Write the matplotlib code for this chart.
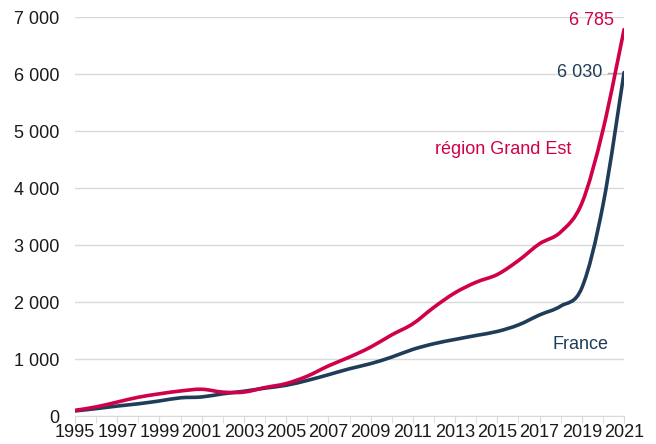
import matplotlib
matplotlib.use("Agg")
import matplotlib.pyplot as plt
from matplotlib.path import Path
from matplotlib.patches import PathPatch
from matplotlib.ticker import FuncFormatter

plt.rcParams['font.family'] = ['Liberation Sans', 'DejaVu Sans']

years = list(range(1995, 2022))
grand_est = [100, 160, 245, 330, 390, 440, 470, 420, 420, 500, 570, 700, 880, 1035,
             1210, 1425, 1620, 1910, 2165, 2350, 2485, 2730, 3025, 3230, 3735, 5020, 6785]
france = [90, 130, 175, 215, 265, 320, 335, 390, 435, 490, 540, 625, 725, 830,
          920, 1035, 1170, 1270, 1345, 1415, 1485, 1600, 1775, 1930, 2250, 3700, 6030]

RED = "#d0004a"
BLUE = "#1f3d58"
FS = 13


def smooth_path(xs, ys):
    # Excel-like smoothed line: cubic Bezier segments through every point
    pts = list(zip(xs, ys))
    verts = [pts[0]]
    codes = [Path.MOVETO]
    n = len(pts)
    for i in range(n - 1):
        p0 = pts[i - 1] if i > 0 else pts[i]
        p1 = pts[i]
        p2 = pts[i + 1]
        p3 = pts[i + 2] if i + 2 < n else pts[i + 1]
        c1 = (p1[0] + (p2[0] - p0[0]) / 6, p1[1] + (p2[1] - p0[1]) / 6)
        c2 = (p2[0] - (p3[0] - p1[0]) / 6, p2[1] - (p3[1] - p1[1]) / 6)
        verts += [c1, c2, p2]
        codes += [Path.CURVE4] * 3
    return Path(verts, codes)


fig = plt.figure(figsize=(6.56, 4.44), dpi=100)
ax = fig.add_axes([0.1143, 0.063, 0.837, 0.898])

for ys, col in [(france, BLUE), (grand_est, RED)]:
    ax.add_patch(PathPatch(smooth_path(years, ys), fill=False, edgecolor=col,
                           linewidth=2.6, capstyle='round', joinstyle='round', zorder=3))

ax.set_xlim(1995, 2021)
ax.set_ylim(0, 7000)
ax.set_yticks(range(0, 7001, 1000))
ax.yaxis.set_major_formatter(FuncFormatter(lambda v, p: f"{int(v):,}".replace(",", " ")))
ax.set_xticks(years, minor=True)
ax.set_xticks(years[::2])
ax.set_xticklabels([str(y) for y in years[::2]])

ax.grid(axis='y', color='#d9d9d9', linewidth=1)
ax.set_axisbelow(True)
for s in ['top', 'right', 'left']:
    ax.spines[s].set_visible(False)
ax.spines['bottom'].set_color('#d9d9d9')
ax.tick_params(axis='y', length=0, labelsize=FS, colors='#1a1a1a', pad=11)
ax.tick_params(axis='x', which='both', length=5, color='#d9d9d9', labelsize=FS,
               labelcolor='#1a1a1a', pad=1)

ax.text(2020.52, 6947, "6 785", ha='right', va='center', color=RED, fontsize=FS)
ax.text(2019.95, 6030, "6 030", ha='right', va='center', color=BLUE, fontsize=FS)
ax.plot([2020.23, 2020.85], [6030, 6030], color='#a6a6a6', linewidth=1, zorder=2)
ax.text(2018.5, 4684, "région Grand Est", ha='right', va='center', color=RED, fontsize=FS)
ax.text(2017.6, 1263, "France", ha='left', va='center', color=BLUE, fontsize=FS)

fig.savefig("out.png", dpi=100)
